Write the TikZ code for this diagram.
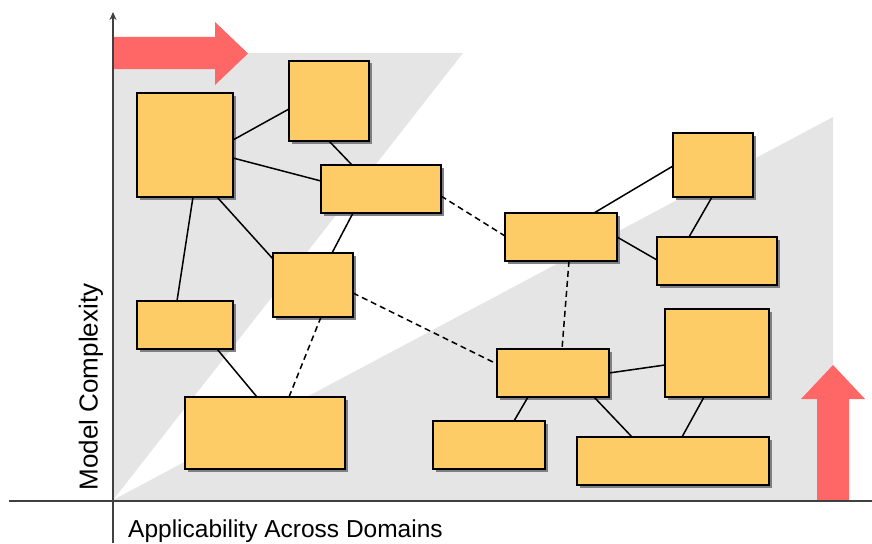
\documentclass[tikz,border=0pt]{standalone}
\usepackage{fontspec}
\setmainfont{Liberation Sans}
\usetikzlibrary{shadows,arrows.meta}
\definecolor{boxfill}{HTML}{FECC66}
\definecolor{arrred}{HTML}{FF6666}
\definecolor{regiongray}{HTML}{E5E5E5}
\definecolor{axisgray}{HTML}{404040}
\tikzset{
  box/.style={draw=black, line width=2.8pt, fill=boxfill, inner sep=0pt, outer sep=0pt,
    drop shadow={shadow xshift=2.5pt, shadow yshift=-2.5pt, fill=black!50, opacity=1}},
  link/.style={line width=1.5pt, black},
  dlink/.style={link, dash pattern=on 6pt off 4pt},
}
\newcommand{\mkbox}[5]{\node[box, minimum width=#4pt-#2pt, minimum height=#5pt-#3pt, anchor=north west] (#1) at (#2,#3) {};}
\begin{document}
\begin{tikzpicture}[x=1pt,y=-1pt]
\useasboundingbox (0,0) rectangle (872,543);
% gray regions
\fill[regiongray] (113,53) -- (463,53) -- (113,500) -- cycle;
\fill[regiongray] (113,500) -- (833,117) -- (833,500) -- cycle;
% red arrows
\fill[arrred] (113,37) -- (215,37) -- (215,22) -- (248,53.5) -- (215,85) -- (215,69) -- (113,69) -- cycle;
\fill[arrred] (817,500) -- (817,399) -- (801,399) -- (833,365) -- (865,399) -- (849,399) -- (849,500) -- cycle;
% axes
\coordinate (xstart) at (9,501);
\coordinate (xend) at (872,501);
\coordinate (ybot) at (113,543);
\coordinate (ytop) at (113,12);
\draw[axisgray, line width=2.6pt] (xstart) -- (xend);
\draw[axisgray, line width=2.6pt, -{Stealth[length=8pt,width=7pt]}] (ybot) -- (ytop);
% boxes
\mkbox{b1}{137}{93}{233}{197}
\mkbox{b2}{289}{61}{369}{141}
\mkbox{b3}{321}{165}{441}{213}
\mkbox{b4}{273}{253}{353}{317}
\mkbox{b5}{137}{301}{233}{349}
\mkbox{b6}{185}{397}{345}{469}
\mkbox{b7}{505}{213}{617}{261}
\mkbox{b8}{673}{133}{753}{197}
\mkbox{b9}{657}{237}{777}{285}
\mkbox{b10}{497}{349}{609}{397}
\mkbox{b11}{665}{309}{769}{397}
\mkbox{b12}{433}{421}{545}{469}
\mkbox{b13}{577}{437}{769}{485}
% connectors
\draw[link] (b1.east |- 0,140) -- (b2.west |- 0,109);
\draw[link] (b1.east |- 0,158) -- (b3.west |- 0,181);
\draw[link] (b2.south -| 329,0) -- (b3.north -| 352,0);
\draw[link] (b1.south -| 193,0) -- (b5.north -| 177,0);
\draw[link] (b1.south -| 217,0) -- (b4.west |- 0,259);
\draw[link] (b3.south -| 353,0) -- (b4.north -| 332,0);
\draw[link] (b5.south -| 217,0) -- (b6.north -| 257,0);
\draw[dlink] (b4.south -| 321,0) -- (b6.north -| 289,0);
\draw[dlink] (b3.east |- 0,196) -- (b7.west |- 0,236);
\draw[dlink] (b4.east |- 0,293) -- (b10.west |- 0,364);
\draw[dlink] (b7.south -| 569,0) -- (b10.north -| 562,0);
\draw[link] (b7.north -| 594,0) -- (b8.west |- 0,166);
\draw[link] (b7.east |- 0,237) -- (b9.west |- 0,260);
\draw[link] (b8.south -| 712,0) -- (b9.north -| 689,0);
\draw[link] (b10.east |- 0,373) -- (b11.west |- 0,365);
\draw[link] (b10.south -| 528,0) -- (b12.north -| 514,0);
\draw[link] (b10.south -| 594,0) -- (b13.north -| 632,0);
\draw[link] (b11.south -| 704,0) -- (b13.north -| 682,0);
% labels
\node[rotate=90, font=\fontsize{26}{30}\selectfont, inner sep=0pt] (ylab) at (91,387) {Model Complexity};
\node[font=\fontsize{24.5}{28}\selectfont, inner sep=0pt, anchor=base west] (xlab) at (128,537) {Applicability Across Domains};
\end{tikzpicture}
\end{document}
